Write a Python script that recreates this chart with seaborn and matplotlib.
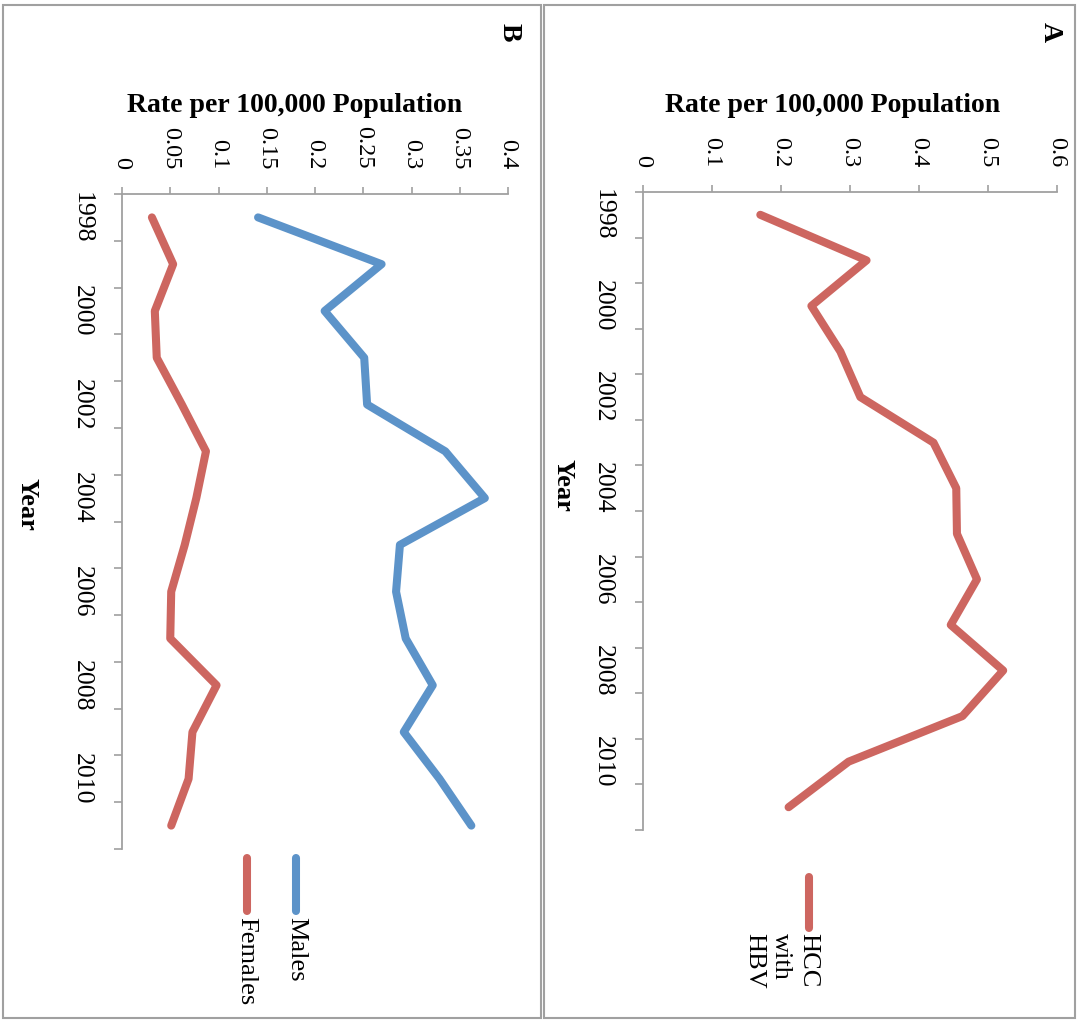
import numpy as np
import pandas as pd
import matplotlib
matplotlib.use("Agg")
import matplotlib.pyplot as plt
import seaborn as sns
from matplotlib.lines import Line2D
from matplotlib.patches import Rectangle

# ---------------- data ----------------
years = list(range(1998, 2012))
year_labels = ["1998", "2000", "2002", "2004", "2006", "2008", "2010"]

hcc_hbv = [0.170, 0.324, 0.244, 0.286, 0.315, 0.421, 0.454,
           0.455, 0.484, 0.446, 0.522, 0.463, 0.298, 0.211]
males = [0.141, 0.269, 0.210, 0.251, 0.254, 0.335, 0.376,
         0.288, 0.284, 0.294, 0.322, 0.292, 0.329, 0.362]
females = [0.031, 0.053, 0.034, 0.036, 0.062, 0.087, 0.077,
           0.065, 0.051, 0.050, 0.098, 0.073, 0.069, 0.051]

rate_ticks_a = [0, 0.1, 0.2, 0.3, 0.4, 0.5, 0.6]
rate_labels_a = ["0", "0.1", "0.2", "0.3", "0.4", "0.5", "0.6"]
rate_ticks_b = [0, 0.05, 0.1, 0.15, 0.2, 0.25, 0.3, 0.35, 0.4]
rate_labels_b = ["0", "0.05", "0.1", "0.15", "0.2", "0.25", "0.3", "0.35", "0.4"]

series_a_name = "HCC\nwith\nHBV"
series_b_names = ["Males", "Females"]

RED = "#CD6660"
BLUE = "#5C93C9"
GRAY = "#A0A0A0"

# ---------------- style ----------------
sns.set_theme(style="white")
plt.rcParams['font.family'] = ['Liberation Serif', 'DejaVu Serif']
plt.rcParams['text.color'] = 'black'
plt.rcParams['xtick.labelcolor'] = 'black'
plt.rcParams['ytick.labelcolor'] = 'black'

W, H = 1078, 1021
fig = plt.figure(figsize=(W / 100, H / 100), dpi=100)


def fx(px):
    return px / W


def fy(py):
    return 1 - py / H


axA = fig.add_axes([fx(643), fy(830), (1057 - 643) / W, (830 - 192) / H])
axB = fig.add_axes([fx(122), fy(849), (508 - 122) / W, (849 - 194) / H])

LW = 5.8

# Panel A
dfA = pd.DataFrame({"year": years, "rate": hcc_hbv})
dfA["pos"] = dfA["year"] - years[0]
sns.lineplot(data=dfA, x="rate", y="pos", orient="y", sort=False, estimator=None,
             ax=axA, color=RED, lw=LW, solid_capstyle="round",
             solid_joinstyle="round", legend=False)

# Panel B
dfB = pd.DataFrame({
    "year": years * 2,
    "rate": males + females,
    "series": [series_b_names[0]] * len(years) + [series_b_names[1]] * len(years),
})
dfB["pos"] = dfB["year"] - years[0]
sns.lineplot(data=dfB, x="rate", y="pos", hue="series", orient="y", sort=False,
             estimator=None, ax=axB, palette={"Males": BLUE, "Females": RED},
             lw=LW, solid_capstyle="round", solid_joinstyle="round", legend=False)


def style_axis(ax, xmax, xticks, xlabels):
    n = len(years)
    ax.set_xlim(0, xmax)
    ax.set_ylim(n - 0.5, -0.5)
    ax.set_xlabel("")
    ax.set_ylabel("")
    ax.xaxis.tick_top()
    ax.set_xticks(xticks)
    ax.set_xticklabels(xlabels, rotation=-90, fontsize=17.5, color="black")
    ax.set_yticks(np.arange(-0.5, n, 1.0))
    ax.set_yticklabels([])
    lab_pos = [int(y) - years[0] for y in year_labels]
    ax.set_yticks(lab_pos, minor=True)
    ax.set_yticklabels(year_labels, minor=True, rotation=-90, fontsize=18.5, color="black")
    for t in ax.get_yticklabels(minor=True):
        t.set_va("center")
    ax.tick_params(axis="y", which="minor", length=0, pad=21, left=True)
    ax.tick_params(axis="y", which="major", length=5.8, width=1.2, color=GRAY,
                   left=True, direction="out")
    ax.tick_params(axis="x", which="major", length=5, width=1.2, color=GRAY,
                   top=True, bottom=False, pad=13, direction="out")
    for s in ["right", "bottom"]:
        ax.spines[s].set_visible(False)
    for s in ["top", "left"]:
        ax.spines[s].set_color(GRAY)
        ax.spines[s].set_linewidth(1.3)
    ax.grid(False)
    ax.set_facecolor("none")


style_axis(axA, 0.6, rate_ticks_a, rate_labels_a)
style_axis(axB, 0.4, rate_ticks_b, rate_labels_b)

# panel frames
for x0, x1 in [(3, 541), (544, 1075)]:
    fig.add_artist(Rectangle((fx(x0), fy(1018)), (x1 - x0) / W, (1018 - 5) / H,
                             transform=fig.transFigure, fill=False, ec=GRAY, lw=1.5))

# titles & labels
fig.text(fx(833), fy(106), "Rate per 100,000 Population", ha="center", va="center",
         fontsize=20, fontweight="bold", color="black")
fig.text(fx(295), fy(106), "Rate per 100,000 Population", ha="center", va="center",
         fontsize=20, fontweight="bold", color="black")
fig.text(fx(1050), fy(32), "A", rotation=-90, ha="center", va="center",
         fontsize=20, fontweight="bold", color="black")
fig.text(fx(509), fy(32), "B", rotation=-90, ha="center", va="center",
         fontsize=20, fontweight="bold", color="black")
fig.text(fx(563), fy(485), "Year", rotation=-90, ha="center", va="center",
         fontsize=19, fontweight="bold", color="black")
fig.text(fx(27), fy(504), "Year", rotation=-90, ha="center", va="center",
         fontsize=19, fontweight="bold", color="black")

# legends
fig.add_artist(Line2D([fx(809), fx(809)], [fy(877), fy(928)], transform=fig.transFigure,
                      color=RED, lw=LW, solid_capstyle="round"))
fig.text(fx(819), fy(933), series_a_name, rotation=-90, ha="right", va="top",
         fontsize=19, linespacing=1.3, multialignment="left", color="black")

fig.add_artist(Line2D([fx(295.5), fx(295.5)], [fy(858), fy(911)], transform=fig.transFigure,
                      color=BLUE, lw=LW, solid_capstyle="round"))
fig.add_artist(Line2D([fx(247), fx(247)], [fy(858), fy(911)], transform=fig.transFigure,
                      color=RED, lw=LW, solid_capstyle="round"))
fig.text(fx(296), fy(917), series_b_names[0], rotation=-90, ha="center", va="top",
         fontsize=19, color="black")
fig.text(fx(246), fy(917), series_b_names[1], rotation=-90, ha="center", va="top",
         fontsize=19, color="black")

fig.savefig("out.png", dpi=100, facecolor="white")
